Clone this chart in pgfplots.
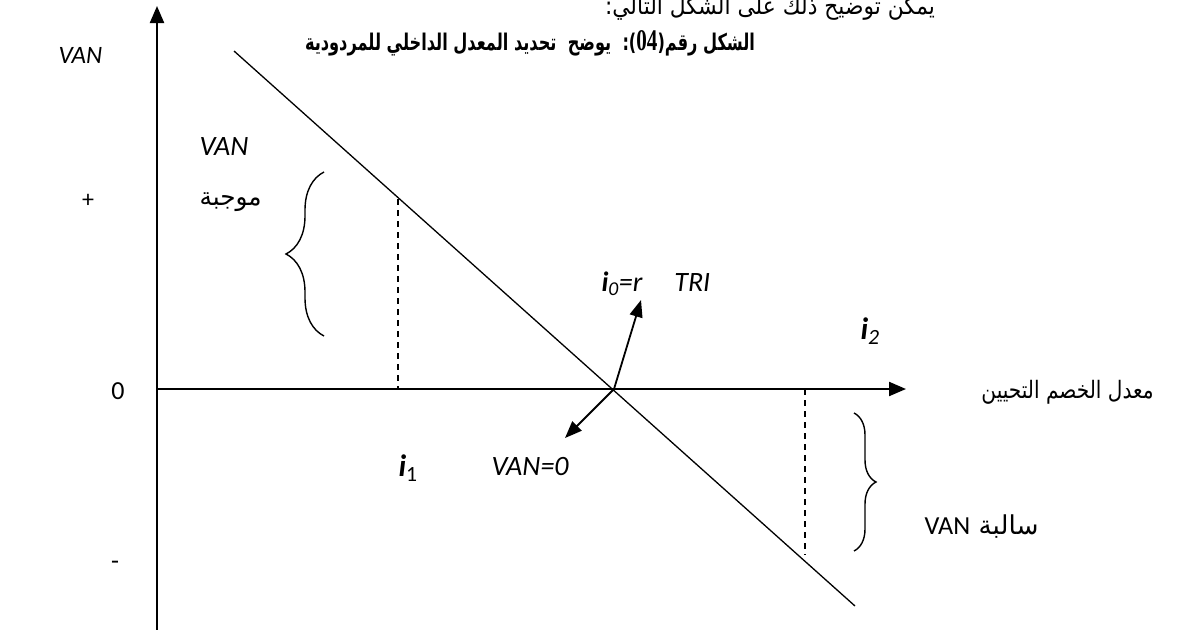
\documentclass[border=0pt]{standalone}
\usepackage{fontspec}
\usepackage{graphicx}
\setmainfont{Carlito}
\newfontfamily\arabicfont[Script=Arabic]{DejaVu Sans}
\newfontfamily\seriffont{Liberation Serif}
\TeXXeTstate=1
\usepackage{pgfplots}
\pgfplotsset{compat=1.18}
\usetikzlibrary{arrows.meta,decorations.pathreplacing}
\begin{document}
\begin{tikzpicture}
\useasboundingbox (0,0) rectangle (1177pt,629pt);
\clip (0,0) rectangle (1177pt,629pt);
\begin{axis}[at={(0,0)},anchor=south west,
  width=1177pt,height=629pt,scale only axis,
  xmin=0,xmax=1177,ymin=0,ymax=629,y dir=reverse,
  hide axis,clip=false]
% axes
\addplot[black,line width=2.2pt,-{Triangle[length=17pt,width=14pt]}] coordinates {(157,640) (157,6)};
\addplot[black,line width=2.2pt,-{Triangle[length=17pt,width=14pt]}] coordinates {(156,389) (906,389)};
% VAN line
\addplot[black,line width=1.3pt] coordinates {(234,51) (855,606)};
% dashed lines
\addplot[black,line width=1.2pt,dash pattern=on 6pt off 5pt] coordinates {(398,199) (398,389)};
\addplot[black,line width=1.2pt,dash pattern=on 6pt off 5pt] coordinates {(805,389) (805,555)};
% braces
\addplot[black,line width=1.4pt,decorate,decoration={brace,amplitude=38pt,aspect=0.5}] coordinates {(324,336) (324,172)};
\addplot[black,line width=1.4pt,decorate,decoration={brace,amplitude=22pt,aspect=0.5}] coordinates {(854,413) (854,551)};
% arrows from IRR point
\addplot[black,line width=1.8pt,-{Triangle[length=17pt,width=13pt]}] coordinates {(614,389) (641,300)};
\addplot[black,line width=1.8pt,-{Triangle[length=17pt,width=13pt]}] coordinates {(614,389) (565,438)};
% texts
\node[anchor=base,font=\fontsize{24}{26}\selectfont] at (axis cs:770,14) {\resizebox{330pt}{\height}{\arabicfont\beginR يمكن توضيح ذلك على الشكل التالي:\endR}};
\node[anchor=base,font=\fontsize{23}{26}\selectfont\bfseries] at (axis cs:530,50) {\resizebox{450pt}{\height}{\arabicfont\beginR الشكل رقم(\beginL{\seriffont\bfseries\fontsize{30}{30}\selectfont 04}\endL):\ \ يوضح\ \ تحديد المعدل الداخلي للمردودية\endR}};
\node[anchor=base west,font=\fontsize{25}{28}\selectfont\itshape] at (axis cs:55,63) {VAN};
\node[anchor=base west,font=\fontsize{28}{32}\selectfont\itshape] at (axis cs:196,155) {VAN};
\node[anchor=base west,font=\fontsize{25}{26}\selectfont] at (axis cs:196,205) {\resizebox{62pt}{\height}{\arabicfont\beginR موجبة\endR}};
\node[anchor=center,font=\fontsize{24}{28}\selectfont] at (axis cs:88,201) {+};
\node[anchor=center,font=\fontsize{26}{28}\selectfont] at (axis cs:118,391) {0};
\node[anchor=center,font=\fontsize{26}{28}\selectfont] at (axis cs:115,565) {-};
\node[anchor=base west,font=\fontsize{31}{34}\selectfont] at (axis cs:395,476) {{\bfseries\itshape i}\textsubscript{1}};
\node[anchor=base west,font=\fontsize{28}{30}\selectfont\itshape] at (axis cs:488,475) {VAN=0};
\node[anchor=base west,font=\fontsize{28}{30}\selectfont\itshape] at (axis cs:598,291) {{\bfseries i}\textsubscript{0}=r\hspace{32pt}TRI};
\node[anchor=base west,font=\fontsize{31}{34}\selectfont] at (axis cs:857,339) {{\bfseries\itshape i}\textsubscript{\itshape 2}};
\node[anchor=base east,font=\fontsize{24}{26}\selectfont] at (axis cs:1157,398) {\resizebox{172pt}{\height}{\arabicfont\beginR معدل الخصم التحيين\endR}};
\node[anchor=base west,font=\fontsize{26}{26}\selectfont] at (axis cs:921,534) {\resizebox{114pt}{\height}{\arabicfont\beginR سالبة \beginL{\rmfamily VAN}\endL\endR}};
\end{axis}
\end{tikzpicture}
\end{document}
